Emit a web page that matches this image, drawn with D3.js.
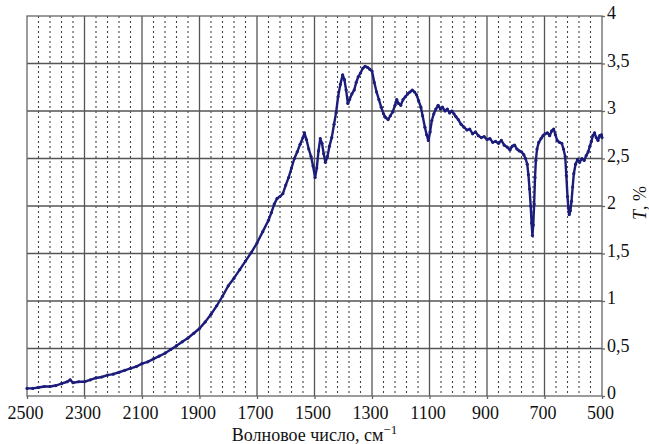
<!DOCTYPE html>
<html>
<head>
<meta charset="utf-8">
<script src="https://cdn.jsdelivr.net/npm/d3@7/dist/d3.min.js"></script>
<style>
  html, body { margin: 0; padding: 0; background: #fff; }
  svg { display: block; }
  text { font-family: "Liberation Serif", "Times New Roman", "DejaVu Serif", serif; fill: #111; }
</style>
</head>
<body>
<svg id="chart" width="649" height="444"></svg>
<script>
// IR spectrum: wavenumber (cm^-1) and transmittance T, %
const wavenumbers = [
  2500, 2480, 2460, 2440, 2420, 2400, 2380, 2360, 2350, 2340, 2320, 2300, 2280, 2260, 2240, 2220,
  2200, 2180, 2160, 2140, 2120, 2100, 2080, 2060, 2040, 2020, 2000, 1980, 1960, 1940, 1920, 1900,
  1880, 1860, 1840, 1820, 1800, 1780, 1760, 1740, 1720, 1700, 1680, 1660, 1650, 1640, 1630, 1620,
  1610, 1600, 1590, 1580, 1570, 1560, 1550, 1540, 1535, 1528, 1520, 1512, 1505, 1498, 1492, 1486,
  1480, 1474, 1468, 1462, 1455, 1448, 1440, 1432, 1425, 1418, 1410, 1402, 1396, 1390, 1384, 1378,
  1370, 1362, 1355, 1348, 1340, 1332, 1324, 1316, 1308, 1300, 1292, 1284, 1276, 1268, 1260, 1252,
  1244, 1236, 1228, 1220, 1214, 1208, 1200, 1192, 1184, 1176, 1168, 1160, 1152, 1145, 1138, 1130,
  1124, 1116, 1110, 1104, 1098, 1092, 1085, 1078, 1070, 1062, 1055, 1046, 1038, 1030, 1022, 1015,
  1008, 1000, 990, 980, 970, 960, 950, 940, 930, 920, 910, 900, 890, 880, 870, 860,
  850, 840, 830, 820, 812, 804, 796, 788, 780, 772, 766, 760, 756, 752, 748, 745,
  742, 739, 736, 733, 730, 726, 720, 712, 705, 698, 690, 682, 675, 668, 662, 656,
  648, 640, 634, 628, 624, 620, 617, 614, 610, 606, 602, 598, 592, 585, 578, 570,
  562, 555, 548, 542, 537, 532, 526, 520, 514, 508, 502, 500
];
const transmittance = [
  0.08, 0.08, 0.09, 0.10, 0.10, 0.11, 0.13, 0.15, 0.17, 0.14, 0.15, 0.15, 0.17, 0.19, 0.20, 0.22,
  0.23, 0.25, 0.27, 0.29, 0.31, 0.34, 0.36, 0.39, 0.42, 0.45, 0.49, 0.53, 0.57, 0.61, 0.66, 0.71,
  0.78, 0.86, 0.95, 1.05, 1.16, 1.24, 1.33, 1.42, 1.51, 1.61, 1.73, 1.85, 1.93, 2.02, 2.08, 2.10,
  2.13, 2.22, 2.30, 2.40, 2.50, 2.57, 2.65, 2.72, 2.77, 2.70, 2.60, 2.52, 2.42, 2.30, 2.40, 2.58,
  2.71, 2.66, 2.55, 2.46, 2.52, 2.63, 2.72, 2.86, 2.98, 3.15, 3.28, 3.38, 3.33, 3.22, 3.08, 3.12,
  3.18, 3.22, 3.30, 3.36, 3.40, 3.45, 3.47, 3.46, 3.44, 3.42, 3.30, 3.20, 3.12, 3.04, 2.97, 2.93,
  2.91, 2.95, 2.99, 3.06, 3.12, 3.08, 3.06, 3.12, 3.15, 3.18, 3.20, 3.22, 3.20, 3.17, 3.11, 3.04,
  2.95, 2.83, 2.75, 2.69, 2.78, 2.90, 2.97, 3.02, 3.06, 3.02, 3.04, 3.00, 3.02, 2.98, 3.00, 2.97,
  2.94, 2.91, 2.86, 2.83, 2.80, 2.81, 2.76, 2.78, 2.74, 2.72, 2.73, 2.70, 2.71, 2.67, 2.68, 2.66,
  2.69, 2.64, 2.62, 2.59, 2.63, 2.64, 2.60, 2.58, 2.57, 2.54, 2.50, 2.44, 2.33, 2.18, 2.00, 1.82,
  1.69, 1.80, 2.02, 2.30, 2.48, 2.60, 2.67, 2.71, 2.74, 2.76, 2.77, 2.74, 2.79, 2.81, 2.75, 2.69,
  2.67, 2.66, 2.60, 2.52, 2.32, 2.10, 1.98, 1.91, 1.95, 2.05, 2.20, 2.34, 2.44, 2.49, 2.46, 2.50,
  2.48, 2.53, 2.57, 2.63, 2.68, 2.74, 2.77, 2.72, 2.69, 2.74, 2.75, 2.72
];
const xTickValues = [2500, 2300, 2100, 1900, 1700, 1500, 1300, 1100, 900, 700, 500];
const yTickValues = [0, 0.5, 1, 1.5, 2, 2.5, 3, 3.5, 4];
const yTickLabels = ["0", "0,5", "1", "1,5", "2", "2,5", "3", "3,5", "4"];

const data = wavenumbers.map((w, i) => ({ w, t: transmittance[i] }));

const serif = "'Liberation Serif', 'Times New Roman', 'DejaVu Serif', serif";
const svg = d3.select("#chart");
const plotLeft = 27, plotRight = 602, plotTop = 16, plotBottom = 396;

const x = d3.scaleLinear().domain([2500, 500]).range([plotLeft, plotRight]);
const y = d3.scaleLinear().domain([0, 4]).range([plotBottom, plotTop]);

// minor dotted verticals every 40 cm^-1
const minorTicks = d3.range(500, 2501, 40).filter(v => (v - 500) % 200 !== 0);
svg.append("g").selectAll("line").data(minorTicks).join("line")
  .attr("x1", d => x(d)).attr("x2", d => x(d))
  .attr("y1", plotTop).attr("y2", plotBottom)
  .attr("stroke", "#444").attr("stroke-width", 1.1)
  .attr("stroke-dasharray", "2,3");

// major solid grid
svg.append("g").selectAll("line").data(xTickValues.slice(1, -1)).join("line")
  .attr("x1", d => x(d)).attr("x2", d => x(d))
  .attr("y1", plotTop).attr("y2", plotBottom)
  .attr("stroke", "#555").attr("stroke-width", 1.3);
svg.append("g").selectAll("line").data(yTickValues.slice(1, -1)).join("line")
  .attr("x1", plotLeft).attr("x2", plotRight)
  .attr("y1", d => y(d)).attr("y2", d => y(d))
  .attr("stroke", "#555").attr("stroke-width", 1.3);

// frame
svg.append("rect")
  .attr("x", plotLeft).attr("y", plotTop)
  .attr("width", plotRight - plotLeft).attr("height", plotBottom - plotTop)
  .attr("fill", "none").attr("stroke", "#666").attr("stroke-width", 1.3);

// bottom axis
const xAxis = svg.append("g")
  .attr("transform", `translate(0,${plotBottom})`)
  .call(d3.axisBottom(x).tickValues(xTickValues).tickSize(3).tickPadding(7).tickFormat(d3.format("d")));
xAxis.select(".domain").remove();
xAxis.selectAll(".tick line").attr("stroke", "#666").attr("stroke-width", 1.3);
xAxis.selectAll(".tick text")
  .style("font-family", serif).attr("font-size", 18).attr("fill", "#111")
  .attr("dx", -2);

// right axis
const yAxis = svg.append("g")
  .attr("transform", `translate(${plotRight},0)`)
  .call(d3.axisRight(y).tickValues(yTickValues).tickSize(3).tickPadding(2)
    .tickFormat((d, i) => yTickLabels[i]));
yAxis.select(".domain").remove();
yAxis.selectAll(".tick line").attr("stroke", "#666").attr("stroke-width", 1.3);
yAxis.selectAll(".tick text")
  .style("font-family", serif).attr("font-size", 18).attr("fill", "#111")
  .attr("dy", "0.16em");

// axis titles
const xt = svg.append("text")
  .attr("x", (plotLeft + plotRight) / 2).attr("y", 441)
  .attr("text-anchor", "middle").attr("font-size", 18)
  .style("font-family", serif);
xt.append("tspan").text("Волновое число, см");
xt.append("tspan").attr("dy", -7).attr("font-size", 13).text("−1");

const yt = svg.append("text")
  .attr("transform", `translate(646,203) rotate(-90)`)
  .attr("text-anchor", "middle").attr("font-size", 18)
  .style("font-family", serif);
yt.append("tspan").attr("font-style", "italic").text("T");
yt.append("tspan").text(", %");

// spectrum
const line = d3.line().x(d => x(d.w)).y(d => y(d.t));
svg.append("path").datum(data)
  .attr("d", line)
  .attr("fill", "none").attr("stroke", "#1c1c7a").attr("stroke-width", 2.4)
  .attr("stroke-linejoin", "round");
svg.append("g").selectAll("circle").data(data).join("circle")
  .attr("cx", d => x(d.w)).attr("cy", d => y(d.t)).attr("r", 1.6)
  .attr("fill", "#1c1c7a");
</script>
</body>
</html>
